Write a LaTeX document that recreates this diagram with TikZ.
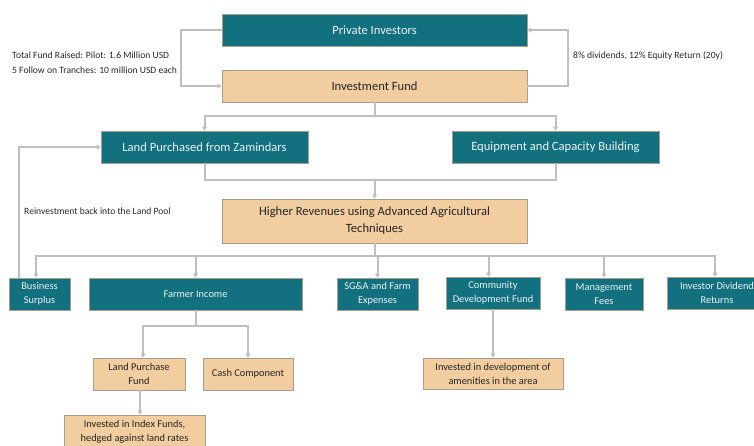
\documentclass[tikz,border=0pt]{standalone}
\usepackage{fontspec}
\setmainfont{Carlito}
\usepackage{xcolor}
\usepackage{tikz}
\usetikzlibrary{positioning,calc,arrows.meta}

\definecolor{tealbox}{HTML}{13707E}
\definecolor{tanbox}{HTML}{F1CDA0}
\definecolor{boxline}{HTML}{A89C8A}
\definecolor{linkgray}{HTML}{BFBFBF}
\definecolor{paletext}{HTML}{EAF2F3}

\tikzset{
  tealnode/.style={draw=boxline, line width=0.8pt, fill=tealbox, text=paletext, inner sep=0pt, align=center},
  tannode/.style={draw=boxline, line width=0.8pt, fill=tanbox, text=black!85, inner sep=0pt, align=center},
  bignode/.style={font=\fontsize{12.6}{17}\selectfont},
  smallnode/.style={font=\fontsize{10.4}{14}\selectfont},
  note/.style={font=\fontsize{9.6}{15}\selectfont, text=black!85, inner sep=0pt, align=left},
  link/.style={draw=linkgray, line width=2pt, -{Triangle[width=5pt,length=4pt]}},
  plainlink/.style={draw=linkgray, line width=2pt}
}

\begin{document}
\begin{tikzpicture}[x=1pt,y=-1pt]
    \useasboundingbox (0,0) rectangle (754,445);
    \clip (0,0) rectangle (754,445);

    % top of the fund
    \node[tealnode,bignode,minimum width=305pt,minimum height=32pt] (pi) at (374.5,30) {Private Investors};
    \node[tannode,bignode,minimum width=305pt,minimum height=32pt] (fund) at (374.5,86) {Investment Fund};
    \node[tealnode,bignode,minimum width=207pt,minimum height=32pt] (land) at (204.5,147) {Land Purchased from Zamindars};
    \node[tealnode,bignode,minimum width=207pt,minimum height=32pt] (equip) at (555.5,147) {Equipment and Capacity Building};
    \node[tannode,bignode,minimum width=305pt,minimum height=44pt] (rev) at (374.5,221) {Higher Revenues using Advanced Agricultural\\Techniques};

    % where the revenue goes
    \node[tealnode,smallnode,minimum width=61pt,minimum height=32pt] (biz) at (39.5,294) {Business\\Surplus};
    \node[tealnode,smallnode,minimum width=213pt,minimum height=32pt] (farm) at (195.5,294) {Farmer Income};
    \node[tealnode,smallnode,minimum width=81pt,minimum height=32pt] (sga) at (377.5,294) {SG\&A and Farm\\Expenses};
    \node[tealnode,smallnode,minimum width=94pt,minimum height=32pt] (comm) at (493,293) {Community\\Development Fund};
    \node[tealnode,smallnode,minimum width=78pt,minimum height=32pt] (mgmt) at (604,294) {Management\\Fees};
    \node[tealnode,smallnode,minimum width=100pt,minimum height=32pt] (inv) at (717,293) {Investor Dividend\\Returns};

    % farmer and community splits
    \node[tannode,smallnode,minimum width=92pt,minimum height=32pt] (lpf) at (139,374) {Land Purchase\\Fund};
    \node[tannode,smallnode,minimum width=90pt,minimum height=32pt] (cash) at (248,374) {Cash Component};
    \node[tannode,smallnode,minimum width=141pt,minimum height=34pt] (index) at (134.5,432) {Invested in Index Funds,\\hedged against land rates};
    \node[tannode,smallnode,minimum width=140pt,minimum height=31pt] (amen) at (493,373.5) {Invested in development of\\amenities in the area};

    % notes
    \node[note,anchor=west] (raised) at (12,62.5) {Total Fund Raised: Pilot: 1.6 Million USD\\5 Follow on Tranches: 10 million USD each};
    \node[note,anchor=west] (divs) at (573,56) {8\% dividends, 12\% Equity Return (20y)};
    \node[note,anchor=west] (reinv) at (24,211) {Reinvestment back into the Land Pool};

    % connectors
    \draw[link] (pi.west) -- ++(-41,0) |- (fund.west);
    \draw[link] (fund.east) -- ++(41,0) |- (pi.east);
    \draw[link] (fund.south) -- ++(0,14) -| (land.north);
    \draw[link] (fund.south) -- ++(0,14) -| (equip.north);
    \coordinate (join) at (374.5,180);
    \draw[plainlink] (land.south) |- (join) -| (equip.south);
    \draw[link] (join) -- (rev.north);

    \coordinate (bus) at (374.5,256);
    \draw[plainlink] (rev.south) -- (bus);
    \draw[link] (bus) -| ([xshift=-3.5pt]biz.north);
    \draw[link] (bus) -| (farm.north);
    \draw[link] (bus) -| (sga.north);
    \draw[link] (bus) -| ([xshift=-4.5pt]comm.north);
    \draw[link] (bus) -| (mgmt.north);
    \draw[link] (bus) -| ([xshift=-2pt]inv.north);
    \draw[link] ([xshift=-20.5pt]biz.north) |- (land.west);

    \draw[link] (farm.south) -- ++(0,15.5) -| ([xshift=4pt]lpf.north);
    \draw[link] (farm.south) -- ++(0,15.5) -| (cash.north);
    \draw[link] ([xshift=1pt]lpf.south) -- ([xshift=1pt]lpf.south |- index.north);
    \draw[link] (comm.south) -- (amen.north);
\end{tikzpicture}
\end{document}
